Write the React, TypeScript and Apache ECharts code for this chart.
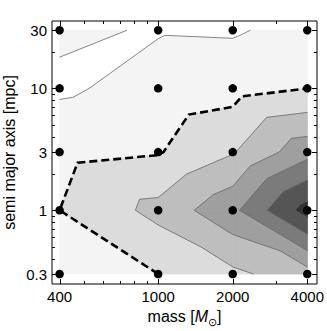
import React, { useEffect, useRef } from "react";
import * as echarts from "echarts";

// ---- data ----
const masses = [400, 1000, 2000, 4000];
const semiMajorAxes = [0.3, 1, 3, 10, 30];
// grid values, one row per semi major axis, one entry per mass
const valuesAt0p3 = [1.6, 2.0, 2.78, 3.57];
const valuesAt1 = [2.0, 3.3, 4.75, 7.45];
const valuesAt3 = [1.71, 1.93, 2.93, 4.65];
const valuesAt10 = [0.85, 1.35, 1.62, 2.0];
const valuesAt30 = [1.13, 0.94, 0.9, 1.32];
const contourLevels = [1, 2, 3, 4, 5, 6, 7, 7.3];
const dashedLevel = 2;
const bandGrays = ["#ffffff", "#f4f4f4", "#dcdcdc", "#bebebe", "#9f9f9f", "#7b7b7b", "#555555", "#333333", "#141414"];
// mesh diagonal of every cell: "tl" joins upper-left to lower-right, "bl" joins lower-left to upper-right
const cellDiagonals = [
  ["tl", "tl", "tl"],
  ["tl", "tl", "tl"],
  ["tl", "tl", "tl"],
  ["bl", "tl", "tl"],
];
const xMajorTicks = [400, 1000, 2000, 4000];
const xMinorTicks = [500, 600, 700, 800, 900, 3000];
const yMajorTicks = [0.3, 1, 3, 10, 30];
const yMinorTicks = [0.4, 0.5, 0.6, 0.7, 0.8, 0.9, 2, 4, 5, 6, 7, 8, 9, 20];
const xRange = [372.7, 4378];
const yRange = [0.2484, 35.7];

const FONT = '"Liberation Sans", Arial, Helvetica, sans-serif';

// ---- contour geometry (linear interpolation on a triangulated mesh in log space) ----
type P = { x: number; y: number; v: number };
const rows = [valuesAt0p3, valuesAt1, valuesAt3, valuesAt10, valuesAt30];

function node(i: number, j: number): P {
  return { x: Math.log10(masses[i]), y: Math.log10(semiMajorAxes[j]), v: rows[j][i] };
}

function buildTriangles(): P[][] {
  const tris: P[][] = [];
  for (let j = 0; j < semiMajorAxes.length - 1; j++) {
    for (let i = 0; i < masses.length - 1; i++) {
      const A = node(i, j), B = node(i + 1, j), C = node(i, j + 1), D = node(i + 1, j + 1);
      if (cellDiagonals[j][i] === "tl") {
        tris.push([A, B, C], [C, B, D]);
      } else {
        tris.push([A, B, D], [A, D, C]);
      }
    }
  }
  return tris;
}

function lerp(a: P, b: P, t: number): P {
  return { x: a.x + (b.x - a.x) * t, y: a.y + (b.y - a.y) * t, v: a.v + (b.v - a.v) * t };
}

function clipAbove(poly: P[], lo: number): P[] {
  const out: P[] = [];
  for (let i = 0; i < poly.length; i++) {
    const cur = poly[i];
    const prev = poly[(i + poly.length - 1) % poly.length];
    const dc = cur.v - lo, dp = prev.v - lo;
    if (dc >= 0) {
      if (dp < 0) out.push(lerp(prev, cur, dp / (dp - dc)));
      out.push(cur);
    } else if (dp >= 0) {
      out.push(lerp(prev, cur, dp / (dp - dc)));
    }
  }
  return out;
}

function levelSegments(tris: P[][], L: number): P[][] {
  const segs: P[][] = [];
  for (const t of tris) {
    const pts: P[] = [];
    for (let e = 0; e < 3; e++) {
      const a = t[e], b = t[(e + 1) % 3];
      if ((a.v >= L) !== (b.v >= L)) pts.push(lerp(a, b, (L - a.v) / (b.v - a.v)));
    }
    if (pts.length === 2 && Math.hypot(pts[0].x - pts[1].x, pts[0].y - pts[1].y) > 1e-9) {
      segs.push([pts[0], pts[1]]);
    }
  }
  return segs;
}

function chainSegments(segs: P[][]): P[][] {
  const used = segs.map(() => false);
  const eq = (p: P, q: P) => Math.abs(p.x - q.x) < 1e-7 && Math.abs(p.y - q.y) < 1e-7;
  const chains: P[][] = [];
  for (let s = 0; s < segs.length; s++) {
    if (used[s]) continue;
    used[s] = true;
    const c = [segs[s][0], segs[s][1]];
    let grown = true;
    while (grown) {
      grown = false;
      for (let k = 0; k < segs.length; k++) {
        if (used[k]) continue;
        const [p, q] = segs[k];
        const head = c[0], tail = c[c.length - 1];
        if (eq(tail, p)) c.push(q);
        else if (eq(tail, q)) c.push(p);
        else if (eq(head, q)) c.unshift(p);
        else if (eq(head, p)) c.unshift(q);
        else continue;
        used[k] = true;
        grown = true;
      }
    }
    chains.push(c);
  }
  return chains;
}

export default function App() {
  const ref = useRef<HTMLDivElement>(null);

  useEffect(() => {
    if (!ref.current) return;
    const chart = echarts.init(ref.current, null, { renderer: "svg" });

    const tris = buildTriangles();
    const bandPolys: { k: number; pts: P[] }[] = [];
    for (let k = 0; k <= contourLevels.length; k++) {
      for (const t of tris) {
        const poly = k === 0 ? t : clipAbove(t, contourLevels[k - 1]);
        if (poly.length >= 3) bandPolys.push({ k, pts: poly });
      }
    }
    const thinChains: P[][] = [];
    contourLevels.forEach((L) => {
      if (L === dashedLevel) return;
      thinChains.push(...chainSegments(levelSegments(tris, L)));
    });
    const dashedChains = chainSegments(levelSegments(tris, dashedLevel));

    const toPx = (api: any, p: P) => api.coord([Math.pow(10, p.x), Math.pow(10, p.y)]);

    const dots: number[][] = [];
    masses.forEach((m) => semiMajorAxes.forEach((a) => dots.push([m, a])));

    const anchor = [[1000, 1]];

    const option: any = {
      animation: false,
      grid: {
        left: 52, right: 10, top: 21, bottom: 47,
        containLabel: false, outerBoundsMode: "none",
        show: true, borderColor: "#000", borderWidth: 1, backgroundColor: "transparent",
      },
      xAxis: {
        type: "log", logBase: 10, min: xRange[0], max: xRange[1],
        axisLine: { show: false }, axisTick: { show: false }, axisLabel: { show: false },
        splitLine: { show: false }, minorTick: { show: false },
        name: "mass [{it|M}{sub|⊙}]",
        nameLocation: "middle", nameGap: 22,
        nameTextStyle: {
          fontSize: 16, fontFamily: FONT, color: "#000",
          rich: {
            it: { fontSize: 16, fontStyle: "italic", fontFamily: FONT, color: "#000" },
            sub: { fontSize: 11, fontFamily: FONT, color: "#000", padding: [10, 0, 0, 0] },
          },
        },
      },
      yAxis: {
        type: "log", logBase: 10, min: yRange[0], max: yRange[1],
        axisLine: { show: false }, axisTick: { show: false }, axisLabel: { show: false },
        splitLine: { show: false }, minorTick: { show: false },
        name: "semi major axis [mpc]",
        nameLocation: "middle", nameGap: 35,
        nameTextStyle: { fontSize: 16, fontFamily: FONT, color: "#000" },
      },
      series: [
        {
          type: "custom", coordinateSystem: "cartesian2d", data: anchor, silent: true, z: 1,
          renderItem: (_p: any, api: any) => ({
            type: "group",
            children: bandPolys.map((bp) => ({
              type: "polygon",
              shape: { points: bp.pts.map((p) => toPx(api, p)) },
              style: { fill: bandGrays[bp.k], stroke: bandGrays[bp.k], lineWidth: 0.6 },
            })),
          }),
        },
        {
          type: "custom", coordinateSystem: "cartesian2d", data: anchor, silent: true, z: 2,
          renderItem: (_p: any, api: any) => ({
            type: "group",
            children: thinChains.map((c) => ({
              type: "polyline",
              shape: { points: c.map((p) => toPx(api, p)) },
              style: { stroke: "#6a6a6a", lineWidth: 0.8, fill: "none" },
            })),
          }),
        },
        {
          type: "custom", coordinateSystem: "cartesian2d", data: anchor, silent: true, z: 3,
          renderItem: (_p: any, api: any) => ({
            type: "group",
            children: dashedChains.map((c) => ({
              type: "polyline",
              shape: { points: c.map((p) => toPx(api, p)) },
              style: { stroke: "#000", lineWidth: 2.6, lineDash: [8, 4], fill: "none" },
            })),
          }),
        },
        {
          type: "scatter", data: dots, symbol: "circle", symbolSize: 8.5, z: 4, silent: true,
          itemStyle: { color: "#000", opacity: 1 },
        },
        {
          type: "custom", coordinateSystem: "cartesian2d", data: anchor, silent: true, z: 5,
          renderItem: (_p: any, api: any) => {
            const ch: any[] = [];
            const [xl, yb] = api.coord([xRange[0], yRange[0]]);
            const [xr, yt] = api.coord([xRange[1], yRange[1]]);
            const ln = (x1: number, y1: number, x2: number, y2: number) => ({
              type: "line", shape: { x1, y1, x2, y2 }, style: { stroke: "#000", lineWidth: 1 },
            });
            const xTick = (m: number, len: number) => {
              const x = Math.round(api.coord([m, yRange[0]])[0]) + 0.5;
              ch.push(ln(x, yb, x, yb - len), ln(x, yt, x, yt + len));
            };
            const yTick = (a: number, len: number) => {
              const y = Math.round(api.coord([xRange[0], a])[1]) + 0.5;
              ch.push(ln(xl, y, xl + len, y), ln(xr, y, xr - len, y));
            };
            xMajorTicks.forEach((m) => xTick(m, 5));
            xMinorTicks.forEach((m) => xTick(m, 3));
            yMajorTicks.forEach((a) => yTick(a, 5));
            yMinorTicks.forEach((a) => yTick(a, 3));
            xMajorTicks.forEach((m) => {
              const x = api.coord([m, yRange[0]])[0];
              ch.push({
                type: "text", x, y: yb + 5,
                style: {
                  text: String(m), fill: "#000", fontSize: 15, fontFamily: FONT,
                  align: "center", verticalAlign: "top", textAlign: "center", textVerticalAlign: "top",
                },
              });
            });
            yMajorTicks.forEach((a) => {
              const y = api.coord([xRange[0], a])[1];
              ch.push({
                type: "text", x: xl - 5, y,
                style: {
                  text: String(a), fill: "#000", fontSize: 15, fontFamily: FONT,
                  align: "right", verticalAlign: "middle", textAlign: "right", textVerticalAlign: "middle",
                },
              });
            });
            return { type: "group", children: ch };
          },
        },
      ],
    };

    chart.setOption(option);
    return () => chart.dispose();
  }, []);

  return (
    <div
      ref={ref}
      style={{ position: "fixed", left: 0, top: 0, width: 327, height: 331, background: "#fff" }}
    />
  );
}
